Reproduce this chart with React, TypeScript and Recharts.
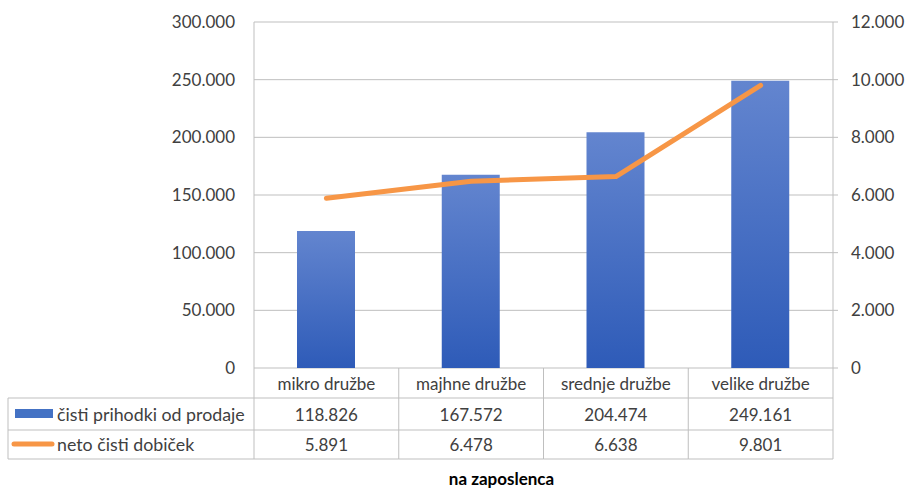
import React from 'react';
import { ComposedChart, Bar, Line, XAxis, YAxis, CartesianGrid } from 'recharts';

const categories = ['mikro družbe', 'majhne družbe', 'srednje družbe', 'velike družbe'];
const revenue = [118826, 167572, 204474, 249161];
const profit = [5891, 6478, 6638, 9801];
const leftTicks = [0, 50000, 100000, 150000, 200000, 250000, 300000];
const rightTicks = [0, 2000, 4000, 6000, 8000, 10000, 12000];
const seriesNames = ['čisti prihodki od prodaje', 'neto čisti dobiček'];
const chartTitle = 'na zaposlenca';

const data = categories.map((cat, i) => ({ cat, revenue: revenue[i], profit: profit[i] }));

const W = 907;
const H = 490;
const LEFT_W = 254;
const RIGHT_W = 74;
const PLOT_W = W - LEFT_W - RIGHT_W;
const BAND = PLOT_W / categories.length;
const FONT = 'Lato, "Open Sans", sans-serif';
const TEXT = '#404040';
const BORDER = '#bfbfbf';
const BLUE = '#4472c4';
const ORANGE = '#f79646';

const fmt = (n: number) => String(n).replace(/\B(?=(\d{3})+(?!\d))/g, '.');

const TableTick = (props: any) => {
  const { x, y, payload } = props;
  const i = payload.index;
  const l = x - BAND / 2;
  const r = x + BAND / 2;
  const r1 = y + 30;
  const r2 = y + 62;
  const r3 = y + 91;
  return (
    <g fontFamily={FONT} fontSize={17} fill={TEXT}>
      <line x1={l} y1={y} x2={l} y2={r3} stroke={BORDER} />
      {i === categories.length - 1 && <line x1={r} y1={y} x2={r} y2={r3} stroke={BORDER} />}
      <line x1={l} y1={r1} x2={r} y2={r1} stroke={BORDER} />
      <line x1={l} y1={r2} x2={r} y2={r2} stroke={BORDER} />
      <line x1={l} y1={r3} x2={r} y2={r3} stroke={BORDER} />
      <text x={x} y={y + 15} textAnchor="middle" dominantBaseline="central" fill={TEXT}>{payload.value}</text>
      <text x={x} y={y + 46} textAnchor="middle" dominantBaseline="central" fill={TEXT}>{fmt(revenue[i])}</text>
      <text x={x} y={y + 76} textAnchor="middle" dominantBaseline="central" fill={TEXT}>{fmt(profit[i])}</text>
      {i === 0 && (
        <g>
          <line x1={8} y1={r1} x2={l} y2={r1} stroke={BORDER} />
          <line x1={8} y1={r2} x2={l} y2={r2} stroke={BORDER} />
          <line x1={8} y1={r3} x2={l} y2={r3} stroke={BORDER} />
          <line x1={8} y1={r1} x2={8} y2={r3} stroke={BORDER} />
          <rect x={15} y={y + 41} width={38} height={9} fill={BLUE} />
          <line x1={14} y1={y + 76} x2={52} y2={y + 76} stroke={ORANGE} strokeWidth={5} strokeLinecap="round" />
          <text x={57} y={y + 46} fontSize={17.8} dominantBaseline="central" fill={TEXT}>{seriesNames[0]}</text>
          <text x={57} y={y + 76} fontSize={17.8} dominantBaseline="central" fill={TEXT}>{seriesNames[1]}</text>
        </g>
      )}
    </g>
  );
};

export default function App() {
  return (
    <div style={{ position: 'absolute', left: 0, top: 0, width: W, height: H, background: '#fff' }}>
      <ComposedChart width={W} height={H} data={data} margin={{ top: 22, right: 0, left: 0, bottom: 0 }}>
        <defs>
          <linearGradient id="barGrad" x1="0" y1="0" x2="0" y2="1">
            <stop offset="0%" stopColor="#6385cf" />
            <stop offset="100%" stopColor="#2e5bb8" />
          </linearGradient>
        </defs>
        <CartesianGrid vertical={false} stroke={BORDER} yAxisId="left" />
        <XAxis
          dataKey="cat"
          height={122}
          axisLine={false}
          tickLine={false}
          tickSize={0}
          tickMargin={0}
          interval={0}
          tick={<TableTick />}
        />
        <YAxis
          yAxisId="left"
          orientation="left"
          width={LEFT_W}
          domain={[0, 300000]}
          ticks={leftTicks}
          tickFormatter={fmt}
          axisLine={{ stroke: BORDER }}
          tickLine={false}
          tickSize={0}
          tickMargin={19}
          tick={{ fill: TEXT, fontSize: 17, fontFamily: FONT }}
        />
        <YAxis
          yAxisId="right"
          orientation="right"
          width={RIGHT_W}
          domain={[0, 12000]}
          ticks={rightTicks}
          tickFormatter={fmt}
          axisLine={{ stroke: BORDER }}
          tickLine={{ stroke: BORDER }}
          tickSize={5}
          tickMargin={13}
          tick={{ fill: TEXT, fontSize: 17, fontFamily: FONT, textAnchor: 'start' }}
        />
        <Bar yAxisId="left" dataKey="revenue" name={seriesNames[0]} fill="url(#barGrad)" barSize={58} isAnimationActive={false} />
        <Line
          yAxisId="right"
          dataKey="profit"
          name={seriesNames[1]}
          stroke={ORANGE}
          strokeWidth={5}
          strokeLinecap="round"
          strokeLinejoin="round"
          dot={false}
          activeDot={false}
          type="linear"
          isAnimationActive={false}
        />
      </ComposedChart>
      <div
        style={{
          position: 'absolute',
          left: 436,
          top: 469,
          width: 131,
          textAlign: 'center',
          fontFamily: FONT,
          fontWeight: 700,
          fontSize: 17,
          color: '#000',
          whiteSpace: 'nowrap',
          lineHeight: '20px',
        }}
      >
        {chartTitle}
      </div>
    </div>
  );
}
